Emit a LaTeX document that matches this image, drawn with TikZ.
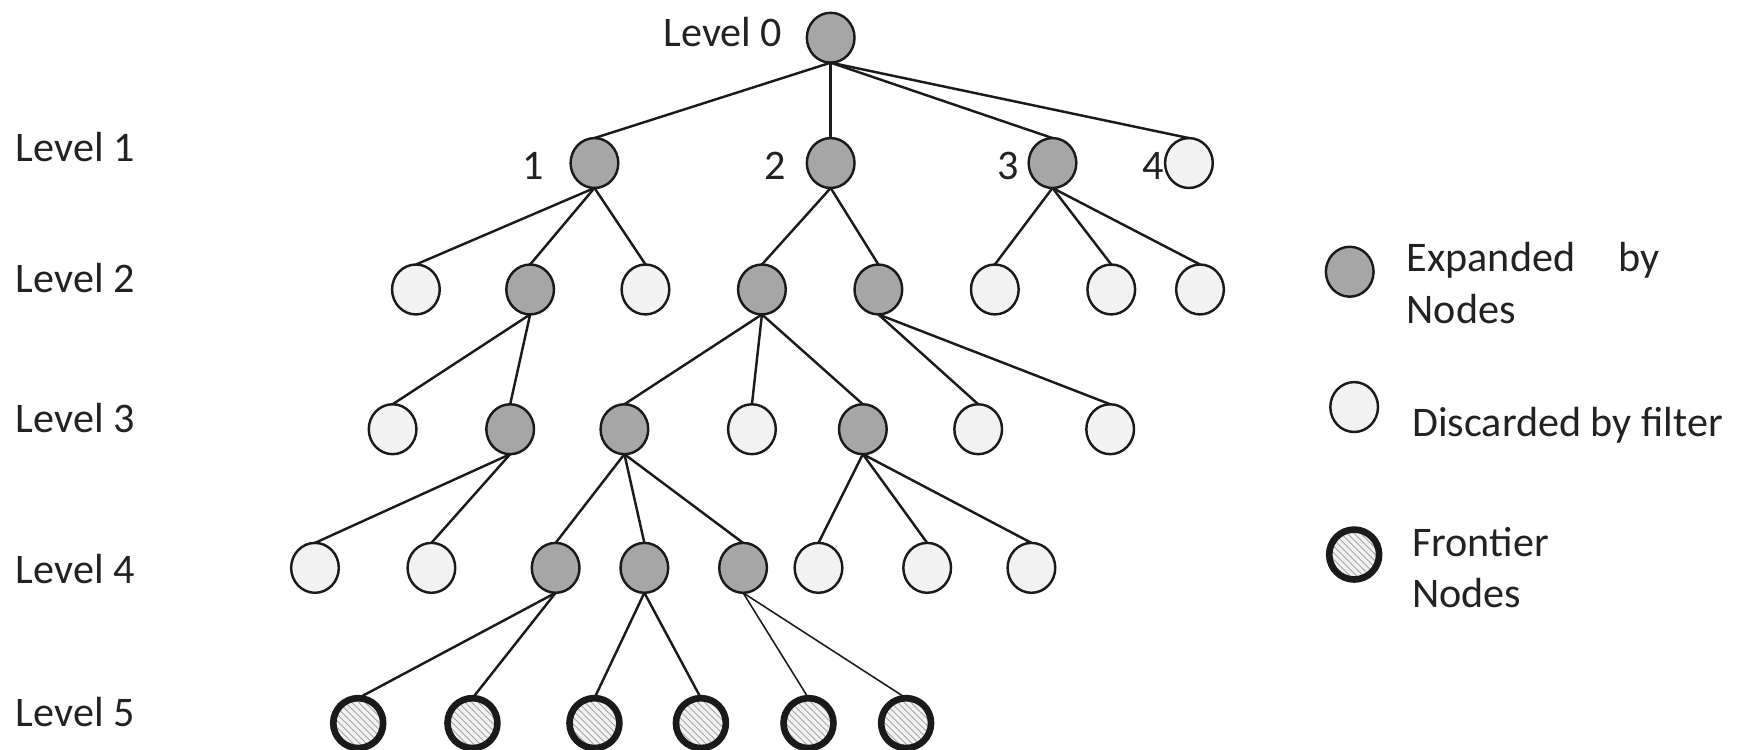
\documentclass[tikz,border=0pt]{standalone}
\usepackage{fontspec}
\setmainfont{Carlito}
\usetikzlibrary{shapes.geometric,patterns}
\definecolor{expgray}{HTML}{A6A6A6}
\definecolor{discwhite}{HTML}{F2F2F2}
\definecolor{linecol}{HTML}{1A1A1A}
\definecolor{txtcol}{HTML}{222222}
\tikzset{
  tnode/.style={ellipse, draw=linecol, line width=1.1pt, minimum width=21.5pt, minimum height=22.5pt, inner sep=0pt, outer sep=0pt},
  expnode/.style={tnode, fill=expgray},
  discnode/.style={tnode, fill=discwhite},
  frontnode/.style={tnode, line width=3pt, minimum width=22.5pt, minimum height=22.5pt, preaction={fill=discwhite}, pattern=north west lines, pattern color=gray!70},
  lbl/.style={anchor=base west, inner sep=0pt, text=txtcol, font=\fontsize{19}{23}\selectfont},
  edge/.style={draw=linecol, line width=1.1pt},
  thinedge/.style={draw=linecol, line width=0.7pt}
}
\begin{document}
\begin{tikzpicture}[x=0.5pt,y=-0.5pt]
\useasboundingbox[fill=white] (0,0) rectangle (1568,676);

% level labels
\node[lbl] (lv0) at (598,42) {Level 0};
\node[lbl] (lv1) at (14,146) {Level 1};
\node[lbl] (lv2) at (14,264) {Level 2};
\node[lbl] (lv3) at (14,390) {Level 3};
\node[lbl] (lv4) at (14,526) {Level 4};
\node[lbl] (lv5) at (14,655) {Level 5};

% root
\node[expnode] (r) at (749,34) {};
% level 1
\node[expnode] (a1) at (536,147) {};
\node[expnode] (a2) at (749,147) {};
\node[expnode] (a3) at (949,147) {};
\node[discnode] (a4) at (1072,147) {};
\node[lbl] (n1) at (471,162) {1};
\node[lbl] (n2) at (689,162) {2};
\node[lbl] (n3) at (899,162) {3};
\node[lbl] (n4) at (1030,162) {4};
% level 2
\node[discnode] (b1) at (375,261) {};
\node[expnode]  (b2) at (478,261) {};
\node[discnode] (b3) at (582,261) {};
\node[expnode]  (b4) at (687,261) {};
\node[expnode]  (b5) at (792,261) {};
\node[discnode] (b6) at (897,261) {};
\node[discnode] (b7) at (1002,261) {};
\node[discnode] (b8) at (1082,261) {};
% level 3
\node[discnode] (c1) at (354,387) {};
\node[expnode]  (c2) at (460,387) {};
\node[expnode]  (c3) at (563,387) {};
\node[discnode] (c4) at (678,387) {};
\node[expnode]  (c5) at (778,387) {};
\node[discnode] (c6) at (882,387) {};
\node[discnode] (c7) at (1001,387) {};
% level 4
\node[discnode] (d1) at (284,512) {};
\node[discnode] (d2) at (389,512) {};
\node[expnode]  (d3) at (501,512) {};
\node[expnode]  (d4) at (581,512) {};
\node[expnode]  (d5) at (670,512) {};
\node[discnode] (d6) at (738,512) {};
\node[discnode] (d7) at (836,512) {};
\node[discnode] (d8) at (930,512) {};
% level 5
\node[frontnode] (e1) at (323,652) {};
\node[frontnode] (e2) at (426,652) {};
\node[frontnode] (e3) at (536,652) {};
\node[frontnode] (e4) at (632,652) {};
\node[frontnode] (e5) at (729,652) {};
\node[frontnode] (e6) at (817,652) {};

% edges
\foreach \c in {a1,a2,a3,a4} \draw[edge] (r.south) -- (\c.north);
\foreach \c in {b1,b2,b3} \draw[edge] (a1.south) -- (\c.north);
\foreach \c in {b4,b5} \draw[edge] (a2.south) -- (\c.north);
\foreach \c in {b6,b7,b8} \draw[edge] (a3.south) -- (\c.north);
\foreach \c in {c1,c2} \draw[edge] (b2.south) -- (\c.north);
\foreach \c in {c3,c4,c5} \draw[edge] (b4.south) -- (\c.north);
\foreach \c in {c6,c7} \draw[edge] (b5.south) -- (\c.north);
\foreach \c in {d1,d2} \draw[edge] (c2.south) -- (\c.north);
\foreach \c in {d3,d4,d5} \draw[edge] (c3.south) -- (\c.north);
\foreach \c in {d6,d7,d8} \draw[edge] (c5.south) -- (\c.north);
\foreach \c in {e1,e2} \draw[edge] (d3.south) -- (\c.north);
\foreach \c in {e3,e4} \draw[edge] (d4.south) -- (\c.north);
\foreach \c in {e5,e6} \draw[thinedge] (d5.south) -- (\c.north);

% legend
\node[expnode]   (k1) at (1217,245) {};
\node[discnode]  (k2) at (1221,367) {};
\node[frontnode] (k3) at (1221,500) {};
\node[lbl] (t1a) at (1268,245) {Expanded\hspace{1.03em}by};
\node[lbl] (t1b) at (1268,292) {Nodes};
\node[lbl] (t2)  at (1273,394) {Discarded by filter};
\node[lbl] (t3a) at (1273,502) {Frontier};
\node[lbl] (t3b) at (1273,548) {Nodes};
\end{tikzpicture}
\end{document}
